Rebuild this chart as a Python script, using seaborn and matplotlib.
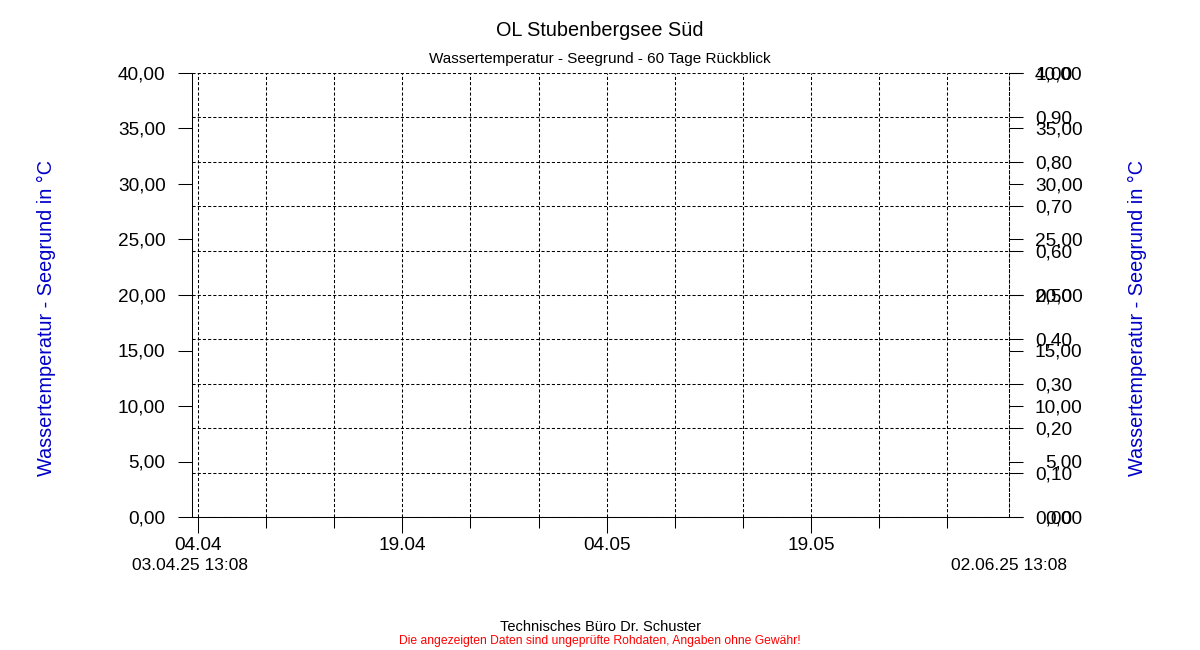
import datetime as dt
import matplotlib
matplotlib.use("Agg")
import matplotlib.pyplot as plt
import matplotlib.dates as mdates
from matplotlib.ticker import FixedLocator, FuncFormatter
import pandas as pd
import seaborn as sns

# chart data (no measurements in the 60 day window)
start = dt.datetime(2025, 4, 3, 13, 8)
end = dt.datetime(2025, 6, 2, 13, 8)
times = []
temps = []
major_days = [dt.datetime(2025, 4, 4), dt.datetime(2025, 4, 19),
              dt.datetime(2025, 5, 4), dt.datetime(2025, 5, 19)]
minor_days = [dt.datetime(2025, 4, 9), dt.datetime(2025, 4, 14),
              dt.datetime(2025, 4, 24), dt.datetime(2025, 4, 29),
              dt.datetime(2025, 5, 9), dt.datetime(2025, 5, 14),
              dt.datetime(2025, 5, 24), dt.datetime(2025, 5, 29)]
temp_ticks = [0, 5, 10, 15, 20, 25, 30, 35, 40]
frac_ticks = [0.0, 0.1, 0.2, 0.3, 0.4, 0.5, 0.6, 0.7, 0.8, 0.9, 1.0]

title = "OL Stubenbergsee Süd"
subtitle = "Wassertemperatur - Seegrund - 60 Tage Rückblick"
ylabel = "Wassertemperatur - Seegrund in °C"
footer = "Technisches Büro Dr. Schuster"
disclaimer = "Die angezeigten Daten sind ungeprüfte Rohdaten, Angaben ohne Gewähr!"

sns.set_theme(style="white")
plt.rcParams["font.family"] = ["Liberation Sans", "DejaVu Sans"]

W, H = 1200, 650
fig = plt.figure(figsize=(12, 6.5), dpi=100)
ax = fig.add_axes([192 / W, 1 - 517 / H, (1009 - 192) / W, (517 - 73) / H])
ax.set_facecolor("white")

df = pd.DataFrame({"time": pd.to_datetime(pd.Series(times, dtype="object")),
                   "temp": pd.Series(temps, dtype=float)})
if len(df):
    sns.lineplot(data=df, x="time", y="temp", ax=ax, color="#0000C8")

ax.set_xlim(start, end)
ax.set_ylim(0, 40)
ax.set_xlabel("")
ax.set_ylabel("")

# x axis
dash = (0, (3, 2))
ax.xaxis.set_major_locator(FixedLocator(mdates.date2num(major_days)))
ax.xaxis.set_minor_locator(FixedLocator(mdates.date2num(minor_days)))
ax.xaxis.set_major_formatter(FuncFormatter(lambda v, p: mdates.num2date(v).strftime("%d.%m")))
ax.tick_params(axis="x", which="major", direction="out", length=11.5, width=0.75,
               color="black", bottom=True, labelsize=13.7, pad=3, labelcolor="black")
ax.tick_params(axis="x", which="minor", direction="out", length=8, width=0.75,
               color="black", bottom=True)
ax.xaxis.grid(True, which="both", color="black", linestyle=dash, linewidth=0.75)

# left y axis
ax.yaxis.set_major_locator(FixedLocator(temp_ticks))
ax.yaxis.set_major_formatter(FuncFormatter(lambda v, p: f"{v:.2f}".replace(".", ",")))
ax.tick_params(axis="y", direction="out", length=10, width=0.75, color="black",
               left=True, labelsize=13.7, pad=9, labelcolor="black")
ax.yaxis.grid(False)

for s in ["top", "right"]:
    ax.spines[s].set_visible(False)
for s in ["left", "bottom"]:
    ax.spines[s].set_color("black")
    ax.spines[s].set_linewidth(0.75)

# right temperature axis (right aligned labels)
ax2 = ax.twinx()
ax2.set_ylim(0, 40)
ax2.yaxis.set_major_locator(FixedLocator(temp_ticks))
ax2.yaxis.set_major_formatter(FuncFormatter(lambda v, p: f"{v:.2f}".replace(".", ",")))
ax2.tick_params(axis="y", direction="out", length=10, width=0.75, color="black",
                right=True, labelsize=13.7, pad=43, labelcolor="black")
for lbl in ax2.get_yticklabels():
    lbl.set_horizontalalignment("right")

# right fraction axis (left aligned labels) carrying the horizontal grid
ax3 = ax.twinx()
ax3.set_ylim(0, 1)
ax3.yaxis.set_major_locator(FixedLocator(frac_ticks))
ax3.yaxis.set_major_formatter(FuncFormatter(lambda v, p: f"{v:.2f}".replace(".", ",")))
ax3.tick_params(axis="y", direction="out", length=10, width=0.75, color="black",
                right=True, labelsize=13.7, pad=9, labelcolor="black")
ax3.yaxis.grid(True, color="black", linestyle=dash, linewidth=0.75)
ax3.set_axisbelow(False)

for a in (ax2, ax3):
    for s in ["top", "left", "bottom", "right"]:
        a.spines[s].set_visible(False)
ax3.spines["right"].set_visible(True)
ax3.spines["right"].set_color("black")
ax3.spines["right"].set_linewidth(0.75)
ax3.spines["right"].set_linestyle(dash)

# start / end timestamps
fig.text(190 / W, 1 - 565 / H, start.strftime("%d.%m.%y %H:%M"), ha="center",
         va="center", fontsize=12.5, color="black")
fig.text(1009 / W, 1 - 565 / H, end.strftime("%d.%m.%y %H:%M"), ha="center",
         va="center", fontsize=12.5, color="black")

# titles and labels
fig.text(0.5, 1 - 30 / H, title, ha="center", va="center", fontsize=14.3, color="black")
fig.text(0.5, 1 - 59 / H, subtitle, ha="center", va="center", fontsize=11, color="black")
fig.text(46 / W, 1 - 318 / H, ylabel, rotation=90, ha="center", va="center",
         fontsize=14.3, color="#0000C8")
fig.text(1137 / W, 1 - 318 / H, ylabel, rotation=90, ha="center", va="center",
         fontsize=14.3, color="#0000C8")
fig.text(0.5, 1 - 627 / H, footer, ha="center", va="center", fontsize=10.5, color="black")
fig.text(0.5, 1 - 641 / H, disclaimer, ha="center", va="center", fontsize=8.7,
         color="#FF0000")

fig.savefig("out.png", dpi=100, facecolor="white")
plt.close(fig)
